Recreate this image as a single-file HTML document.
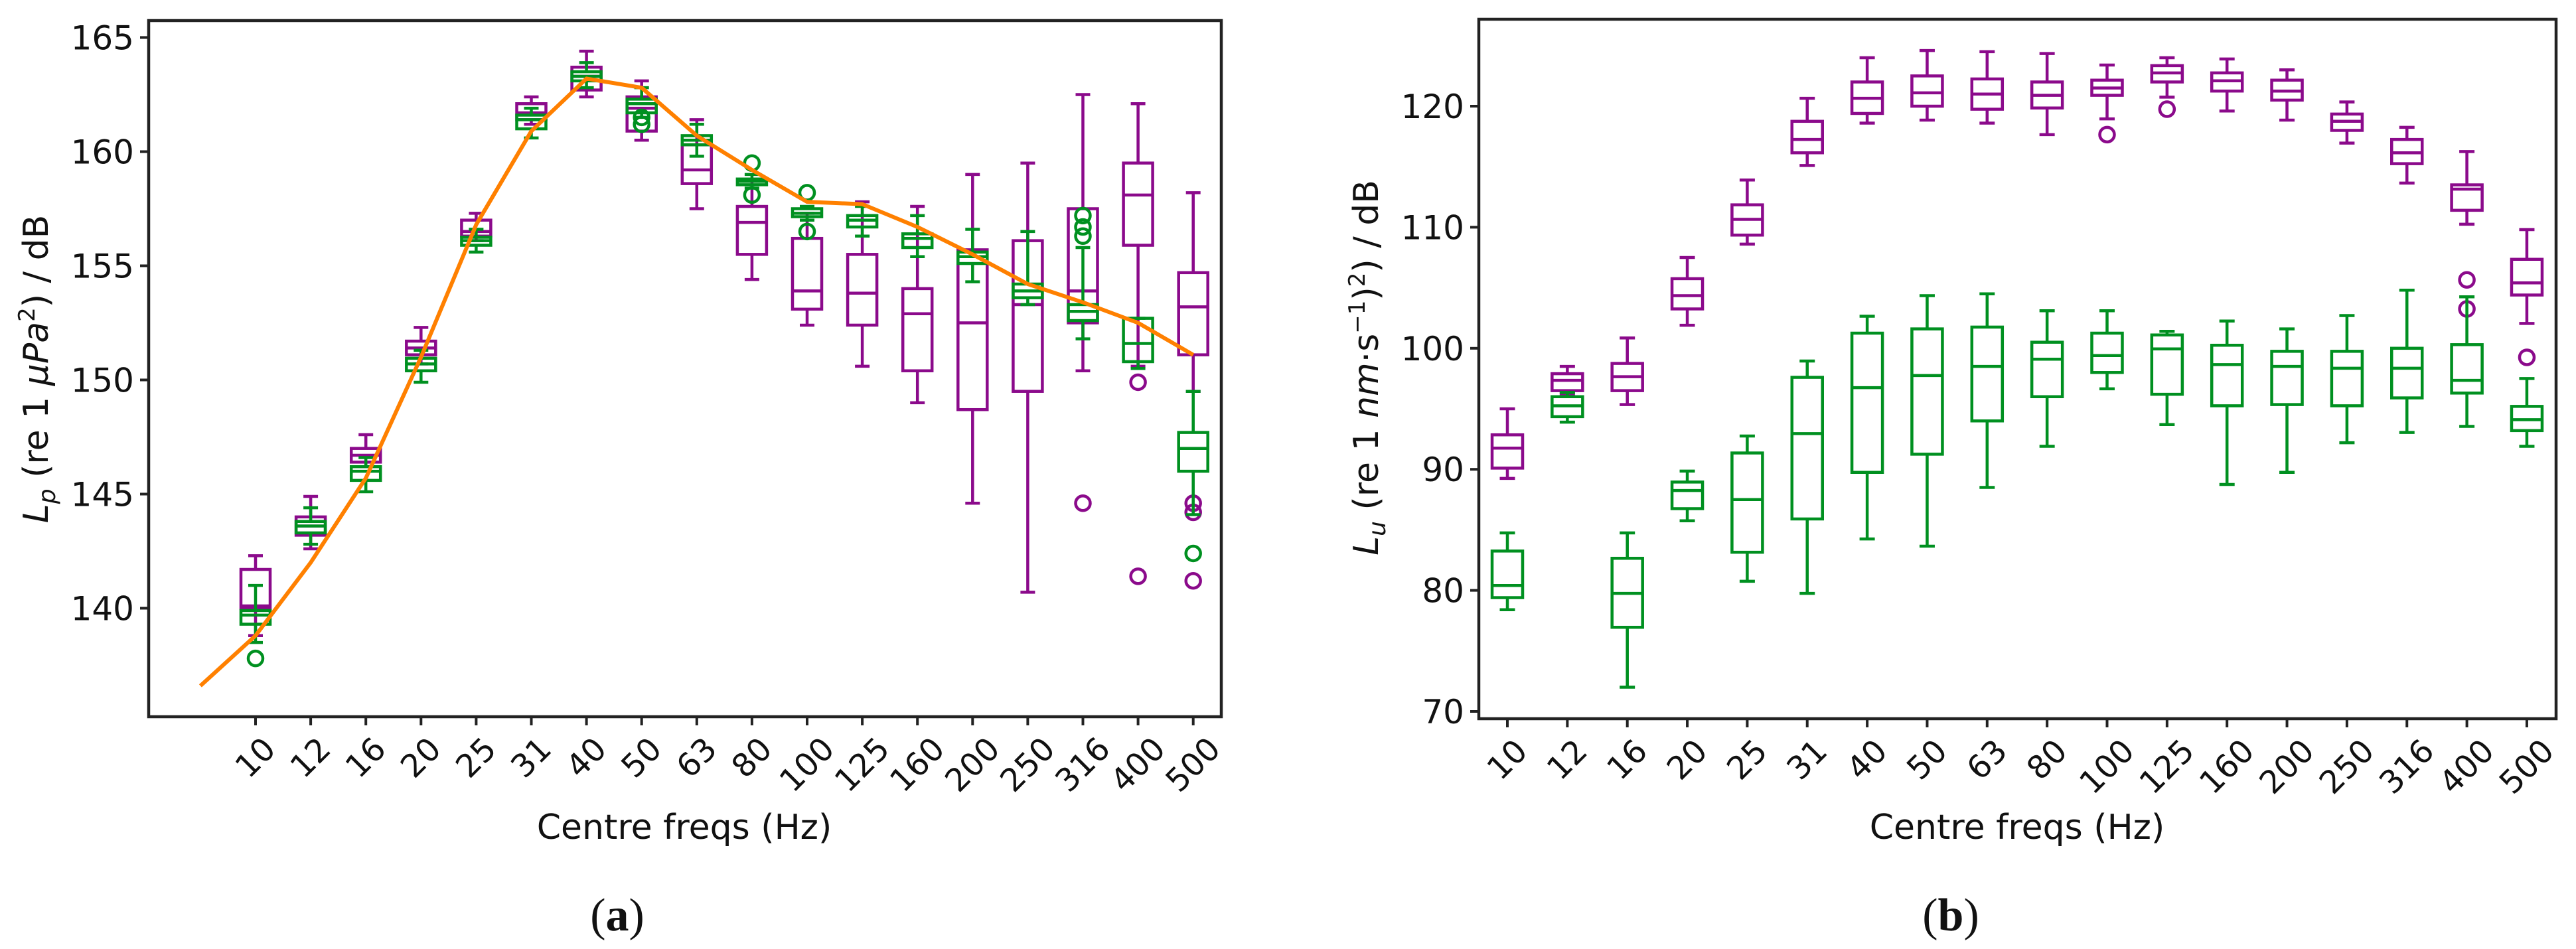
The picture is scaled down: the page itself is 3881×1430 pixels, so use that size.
<!DOCTYPE html>
<html><head><meta charset="utf-8">
<style>
html,body{margin:0;padding:0;background:#fff;}
svg{display:block;}
text{font-family:"DejaVu Sans","Liberation Sans",sans-serif;fill:#111;}
.cap{font-family:"Liberation Serif",serif;}
</style></head>
<body>
<svg id="fig" width="3881" height="1430" viewBox="0 0 3881 1430" xmlns="http://www.w3.org/2000/svg">
  <g id="pa"></g>
  <g id="pb"></g>
</svg>
<script>
const categories = ["10","12","16","20","25","31","40","50","63","80","100","125","160","200","250","316","400","500"];
// panel a: [whislo, q1, med, q3, whishi]
const aPurple = [[138.8,140.0,140.1,141.7,142.3],[142.6,143.2,143.6,144.0,144.9],[146.2,146.4,146.7,147.0,147.6],[150.7,151.1,151.4,151.7,152.3],[156.1,156.3,156.5,157.0,157.3],[161.2,161.4,161.7,162.1,162.4],[162.4,162.7,163.3,163.7,164.4],[160.5,160.9,161.9,162.4,163.1],[157.5,158.6,159.2,160.3,161.4],[154.4,155.5,156.9,157.6,158.7],[152.4,153.1,153.9,156.2,157.3],[150.6,152.4,153.8,155.5,157.8],[149.0,150.4,152.9,154.0,157.6],[144.6,148.7,152.5,155.7,159.0],[140.7,149.5,153.3,156.1,159.5],[150.4,152.5,153.9,157.5,162.5],[150.6,155.9,158.1,159.5,162.1],[149.5,151.1,153.2,154.7,158.2]];
const aPurpleFliers = [[],[],[],[],[],[],[],[],[],[],[],[],[],[],[],[144.6],[149.9,141.4],[144.6,144.2,141.2]];
const aGreen = [[138.5,139.3,139.7,139.9,141.0],[142.8,143.3,143.6,143.8,144.4],[145.1,145.6,146.0,146.2,146.6],[149.9,150.4,150.7,150.95,151.3],[155.6,155.9,156.1,156.25,156.6],[160.6,161.0,161.4,161.6,161.9],[162.8,163.1,163.3,163.5,163.9],[161.5,161.7,162.1,162.3,162.8],[159.8,160.3,160.5,160.7,161.2],[158.4,158.55,158.7,158.8,159.0],[157.0,157.15,157.3,157.5,157.6],[156.3,156.7,157.0,157.2,157.6],[155.4,155.8,156.2,156.4,157.2],[154.3,155.1,155.4,155.6,156.6],[153.3,153.6,153.9,154.2,156.5],[151.8,152.6,153.0,153.3,155.8],[150.5,150.8,151.6,152.7,152.7],[144.1,146.0,147.0,147.7,149.5]];
const aGreenFliers = [[137.8],[],[],[],[],[],[],[161.5,161.2],[],[159.5,158.1],[158.2,156.5],[],[],[],[],[157.2,156.7,156.3],[],[142.4]];
const aLinePos = [-1,0,1,2,3,4,5,6,7,8,9,10,11,12,13,14,15,16,17];
const aLineVals = [136.6,138.8,142.0,145.7,151.0,156.8,160.9,163.2,162.8,160.7,159.2,157.8,157.7,156.7,155.5,154.2,153.4,152.5,151.1];
const aTicks = [140,145,150,155,160,165];
// panel b
const bPurple = [[89.25,90.1,91.75,92.85,95.0],[96.25,96.5,97.35,97.9,98.5],[95.35,96.5,97.65,98.75,100.85],[101.9,103.25,104.35,105.75,107.5],[108.6,109.35,110.65,111.85,113.9],[115.1,116.15,117.25,118.75,120.65],[118.6,119.4,120.65,122.0,124.0],[118.85,120.0,121.1,122.5,124.6],[118.6,119.75,121.0,122.25,124.5],[117.65,119.85,120.9,122.0,124.35],[118.95,120.9,121.5,122.15,123.4],[120.75,122.0,122.75,123.35,124.0],[119.6,121.25,122.1,122.75,123.9],[118.85,120.5,121.25,122.15,123.0],[116.95,118.0,118.75,119.35,120.35],[113.65,115.25,116.15,117.25,118.25],[110.25,111.4,113.15,113.5,116.25],[102.05,104.4,105.4,107.35,109.8]];
const bPurpleFliers = [[],[],[],[],[],[],[],[],[],[],[117.65],[119.75],[],[],[],[],[105.65,103.25],[99.25]];
const bGreen = [[78.4,79.4,80.4,83.25,84.75],[93.9,94.35,95.25,96.0,96.35],[72.0,76.95,79.75,82.65,84.75],[85.75,86.75,88.25,88.95,89.85],[80.75,83.15,87.5,91.35,92.75],[79.75,85.9,92.95,97.6,98.95],[84.25,89.75,96.75,101.25,102.65],[83.65,91.25,97.75,101.6,104.35],[88.5,94.0,98.5,101.75,104.5],[91.9,96.0,99.1,100.5,103.1],[96.65,98.0,99.4,101.25,103.1],[93.7,96.2,99.95,101.1,101.4],[88.75,95.25,98.65,100.25,102.25],[89.75,95.35,98.5,99.75,101.6],[92.2,95.25,98.35,99.75,102.7],[93.05,95.9,98.35,100.0,104.8],[93.55,96.3,97.35,100.3,104.25],[91.9,93.2,94.1,95.2,97.5]];
const bGreenFliers = [[],[],[],[],[],[],[],[],[],[],[],[],[],[],[],[],[],[]];
const bTicks = [70,80,90,100,110,120];

const NS="http://www.w3.org/2000/svg";
const PURPLE="#8b0a8b", GREEN="#009020", ORANGE="#ff8000";
function mk(parent,tag,attrs){const e=document.createElementNS(NS,tag);for(const k in attrs)e.setAttribute(k,attrs[k]);parent.appendChild(e);return e;}

function panel(g, cfg){
  const xs = i => cfg.x0 + cfg.dx*i;
  const ys = v => cfg.yref + (cfg.vref - v)*cfg.py;
  const bw = cfg.bw;
  function boxes(data, fliers, color, name){
    data.forEach((d,i)=>{
      const cx=xs(i);
      const grp=mk(g,'g',{});
      
      
      const st={stroke:color,'stroke-width':4.5,fill:'none'};
      mk(grp,'line',Object.assign({x1:cx,x2:cx,y1:ys(d[0]),y2:ys(d[1])},st));
      mk(grp,'line',Object.assign({x1:cx,x2:cx,y1:ys(d[3]),y2:ys(d[4])},st));
      mk(grp,'line',Object.assign({x1:cx-bw/4,x2:cx+bw/4,y1:ys(d[0]),y2:ys(d[0])},st));
      mk(grp,'line',Object.assign({x1:cx-bw/4,x2:cx+bw/4,y1:ys(d[4]),y2:ys(d[4])},st));
      mk(grp,'rect',Object.assign({x:cx-bw/2,y:ys(d[3]),width:bw,height:Math.max(1,ys(d[1])-ys(d[3]))},st));
      mk(grp,'line',Object.assign({x1:cx-bw/2,x2:cx+bw/2,y1:ys(d[2]),y2:ys(d[2])},st));
      fliers[i].forEach(f=>{
        const c=mk(grp,'circle',Object.assign({cx:cx,cy:ys(f),r:11},st));
        
        
      });
    });
  }
  boxes(cfg.purple,cfg.pf,PURPLE,'purple');
  boxes(cfg.green,cfg.gf,GREEN,'green');
  if(cfg.line){
    const pts=cfg.linePos.map((p,k)=>xs(p)+','+ys(cfg.lineVals[k])).join(' ');
    const pl=mk(g,'polyline',{points:pts,fill:'none',stroke:ORANGE,'stroke-width':6,'stroke-linejoin':'round'});
    
    
  }
  const fr=mk(g,'rect',{x:cfg.L,y:cfg.T,width:cfg.R-cfg.L,height:cfg.B-cfg.T,fill:'none',stroke:'#222','stroke-width':4.5});
  
  
  cfg.ticks.forEach(t=>{
    const y=ys(t);
    mk(g,'line',{x1:cfg.L-13,x2:cfg.L,y1:y,y2:y,stroke:'#222','stroke-width':4});
    const tx=mk(g,'text',{x:cfg.L-22,y:y+18,'text-anchor':'end','font-size':50});
    tx.textContent=t;
    
    
  });
  categories.forEach((c,i)=>{
    const x=xs(i);
    mk(g,'line',{x1:x,x2:x,y1:cfg.B,y2:cfg.B+13,stroke:'#222','stroke-width':4});
    const w=c.length*30, h=36;
    const cy=cfg.B+28+(w+h)*0.707/2;
    const tx=mk(g,'text',{x:x,y:cy+16,'text-anchor':'middle','font-size':48,transform:'rotate(-45 '+x+' '+cy+')'});
    tx.textContent=c;
    
    
  });
}

const ga=document.getElementById('pa');
panel(ga,{x0:385,dx:83.1,yref:56.5,vref:165,py:34.4,bw:44,L:224,R:1840,T:31,B:1080,
  purple:aPurple,pf:aPurpleFliers,green:aGreen,gf:aGreenFliers,line:true,linePos:aLinePos,lineVals:aLineVals,ticks:aTicks});
const gb=document.getElementById('pb');
panel(gb,{x0:2271,dx:90.35,yref:160,vref:120,py:18.24,bw:46,L:2228,R:3851,T:29,B:1083,
  purple:bPurple,pf:bPurpleFliers,green:bGreen,gf:bGreenFliers,line:false,ticks:bTicks});

function label(g,html,attrs,name){
  const t=mk(g,'text',attrs);t.innerHTML=html;
  
  
}
label(ga,'<tspan font-style="italic">L</tspan><tspan font-style="italic" font-size="36" dy="11">p</tspan><tspan dy="-11"> (re 1 </tspan><tspan font-style="italic">μPa</tspan><tspan font-size="34" dy="-20">2</tspan><tspan dy="20">) / dB</tspan>',
  {x:0,y:0,'font-size':52,'text-anchor':'middle',transform:'translate(72,556) rotate(-90)'},'y-axis-title');
label(gb,'<tspan font-style="italic">L</tspan><tspan font-style="italic" font-size="36" dy="11">u</tspan><tspan dy="-11"> (re 1 </tspan><tspan font-style="italic">nm</tspan><tspan>·s</tspan><tspan font-size="34" dy="-20">−1</tspan><tspan dy="20">)</tspan><tspan font-size="34" dy="-20">2</tspan><tspan dy="20">) / dB</tspan>',
  {x:0,y:0,'font-size':52,'text-anchor':'middle',transform:'translate(2076,554) rotate(-90)'},'y-axis-title');
label(ga,'Centre freqs (Hz)',{x:1031,y:1264,'font-size':52,'text-anchor':'middle'},'x-axis-title');
label(gb,'Centre freqs (Hz)',{x:3039,y:1264,'font-size':52,'text-anchor':'middle'},'x-axis-title');
label(ga,'(<tspan font-weight="bold">a</tspan>)',{x:930,y:1402,'font-size':70,'text-anchor':'middle',class:'cap'},'panel-a-caption');
label(gb,'(<tspan font-weight="bold">b</tspan>)',{x:2939,y:1402,'font-size':70,'text-anchor':'middle',class:'cap'},'panel-b-caption');
</script>
</body></html>
